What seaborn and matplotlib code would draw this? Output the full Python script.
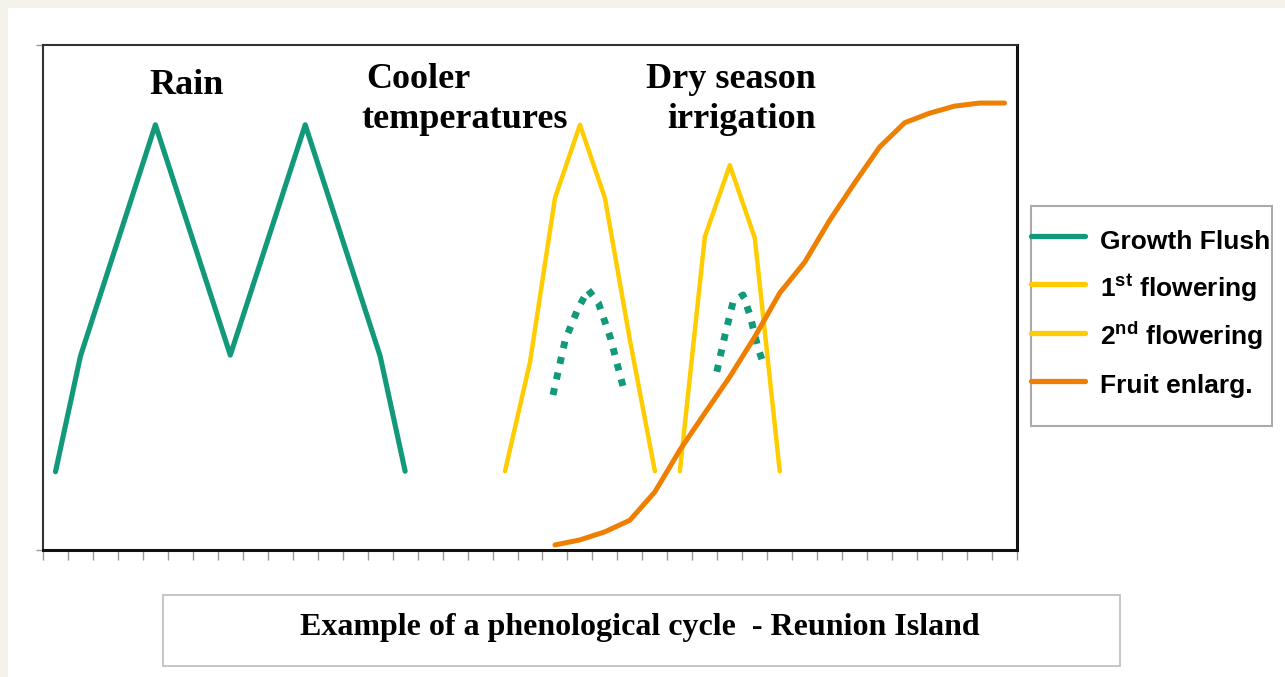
import matplotlib
matplotlib.use("Agg")
import matplotlib.pyplot as plt
from matplotlib.patches import Rectangle
from matplotlib.font_manager import FontProperties
import numpy as np
import seaborn as sns

# one category per tick gap along the cycle
n_cat = 39

# growth flush (solid)
growth_x = [0, 1, 4, 7, 10, 13, 14]
growth_y = [15.5, 38.4, 84.2, 38.6, 84.2, 38.4, 15.6]

# small flushes during flowering (dotted)
flush1_x = [19.92, 20.41, 20.93, 21.33, 21.74, 22.22, 22.73]
flush1_y = [30.7, 41.6, 47.9, 51.5, 48.9, 42.0, 32.3]
flush2_x = [26.48, 26.81, 27.13, 27.53, 27.81, 28.13, 28.34]
flush2_y = [35.3, 42.6, 49.1, 50.5, 46.5, 40.0, 37.0]

# flowerings
flower1_x = [18, 19, 20, 21, 22, 23, 24]
flower1_y = [15.6, 37.2, 69.7, 84.2, 69.7, 41.6, 15.6]
flower2_x = [25, 26, 27, 28, 29]
flower2_y = [15.6, 62.0, 76.2, 61.8, 15.6]

# fruit enlargement
fruit_x = list(range(20, 39))
fruit_y = [1.0, 2.0, 3.6, 5.9, 11.5, 19.8, 27.1, 34.3, 42.2, 50.9,
           57.0, 65.3, 72.7, 79.8, 84.6, 86.5, 87.9, 88.5, 88.5]

labels = ["Growth Flush", r"1$^{\rm st}$ flowering", r"2$^{\rm nd}$ flowering", "Fruit enlarg."]
caption = "Example of a phenological cycle  - Reunion Island"

green = "#11997A"
yellow = "#FFCC00"
orange = "#EE7F00"

sns.set_style("white")
plt.rcParams["font.family"] = ["Liberation Sans", "DejaVu Sans"]
plt.rcParams["text.color"] = "black"
plt.rcParams["mathtext.fontset"] = "custom"
plt.rcParams["mathtext.rm"] = "Liberation Sans:bold"
plt.rcParams["mathtext.it"] = "Liberation Sans:bold"
plt.rcParams["mathtext.bf"] = "Liberation Sans:bold"

W, H = 1285, 677
fig = plt.figure(figsize=(W / 100, H / 100), dpi=100)
fig.patch.set_facecolor("white")

def fx(px):
    return px / W

def fy(py):
    return 1 - py / H

# cream page edges
fig.patches.append(Rectangle((0, fy(8)), 1, 8 / H, transform=fig.transFigure,
                             facecolor="#F5F2EA", edgecolor="none", zorder=0))
fig.patches.append(Rectangle((0, 0), fx(8), 1, transform=fig.transFigure,
                             facecolor="#F5F2EA", edgecolor="none", zorder=0))

ax = fig.add_axes([fx(43), fy(550), fx(1017 - 43), (550 - 45) / H])

sns.lineplot(x=growth_x, y=growth_y, ax=ax, color=green, linewidth=3.7,
             sort=False, estimator=None, label=labels[0])
sns.lineplot(x=flower1_x, y=flower1_y, ax=ax, color=yellow, linewidth=3.2,
             sort=False, estimator=None, label=labels[1])
sns.lineplot(x=flower2_x, y=flower2_y, ax=ax, color=yellow, linewidth=3.2,
             sort=False, estimator=None, label=labels[2])
for xs, ys in [(flush1_x, flush1_y), (flush2_x, flush2_y)]:
    sns.lineplot(x=xs, y=ys, ax=ax, color=green, linewidth=5,
                 linestyle=(0, (1, 1.3)), sort=False, estimator=None)
sns.lineplot(x=fruit_x, y=fruit_y, ax=ax, color=orange, linewidth=3.6,
             sort=False, estimator=None, label=labels[3])

ax.set_xlim(-0.5, n_cat - 0.5)
ax.set_ylim(0, 100)
ax.set_xticks(np.arange(-0.5, n_cat, 1))
ax.set_yticks([0, 100])
ax.set_xticklabels([])
ax.set_yticklabels([])
ax.set_xlabel("")
ax.set_ylabel("")
ax.tick_params(axis="x", bottom=True, length=7, width=1, color="#999999", direction="out")
ax.tick_params(axis="y", left=True, length=5, width=1, color="#999999", direction="out")
for side in ["left", "top"]:
    ax.spines[side].set_color("#333333")
    ax.spines[side].set_linewidth(1.5)
for side in ["right", "bottom"]:
    ax.spines[side].set_color("#111111")
    ax.spines[side].set_linewidth(2.2)
ax.get_legend().remove()

serif = dict(family=["Liberation Serif", "DejaVu Serif"], weight="bold", fontsize=26,
             color="black")
ax.text(5.23, 90.3, "Rain", ha="center", va="baseline", **serif)
ax.text(12.45, 91.5, "Cooler", ha="left", va="baseline", **serif)
ax.text(12.25, 83.5, "temperatures", ha="left", va="baseline", **serif)
ax.text(30.45, 91.5, "Dry season", ha="right", va="baseline", **serif)
ax.text(30.45, 83.5, "irrigation", ha="right", va="baseline", **serif)

# legend box
fig.patches.append(Rectangle((fx(1031), fy(426)), fx(1272 - 1031), (426 - 206) / H,
                             transform=fig.transFigure, facecolor="white",
                             edgecolor="#AAAAAA", linewidth=1.5, zorder=1))
handles = [h for h in ax.get_lines() if h.get_label() in labels]
leg = fig.legend(handles, labels, loc="upper left",
                 bbox_to_anchor=(fx(1031), fy(224)), bbox_transform=fig.transFigure,
                 frameon=False, borderpad=0, borderaxespad=0, handlelength=2.05,
                 handletextpad=0.57, handleheight=1.5, labelspacing=0.6,
                 prop=FontProperties(family="Liberation Sans", weight="bold", size=19))
for line in leg.get_lines():
    line.set_linewidth(3.8)
for t in leg.get_texts():
    t.set_color("black")

# caption box
fig.patches.append(Rectangle((fx(163), fy(666)), fx(1120 - 163), (666 - 595) / H,
                             transform=fig.transFigure, facecolor="white",
                             edgecolor="#BBBBBB", linewidth=1.2, zorder=1))
fig.text(fx(640), fy(627), caption, ha="center", va="center", color="black",
         family=["Liberation Serif", "DejaVu Serif"], weight="bold", fontsize=23)

fig.savefig("out.png", dpi=100)
